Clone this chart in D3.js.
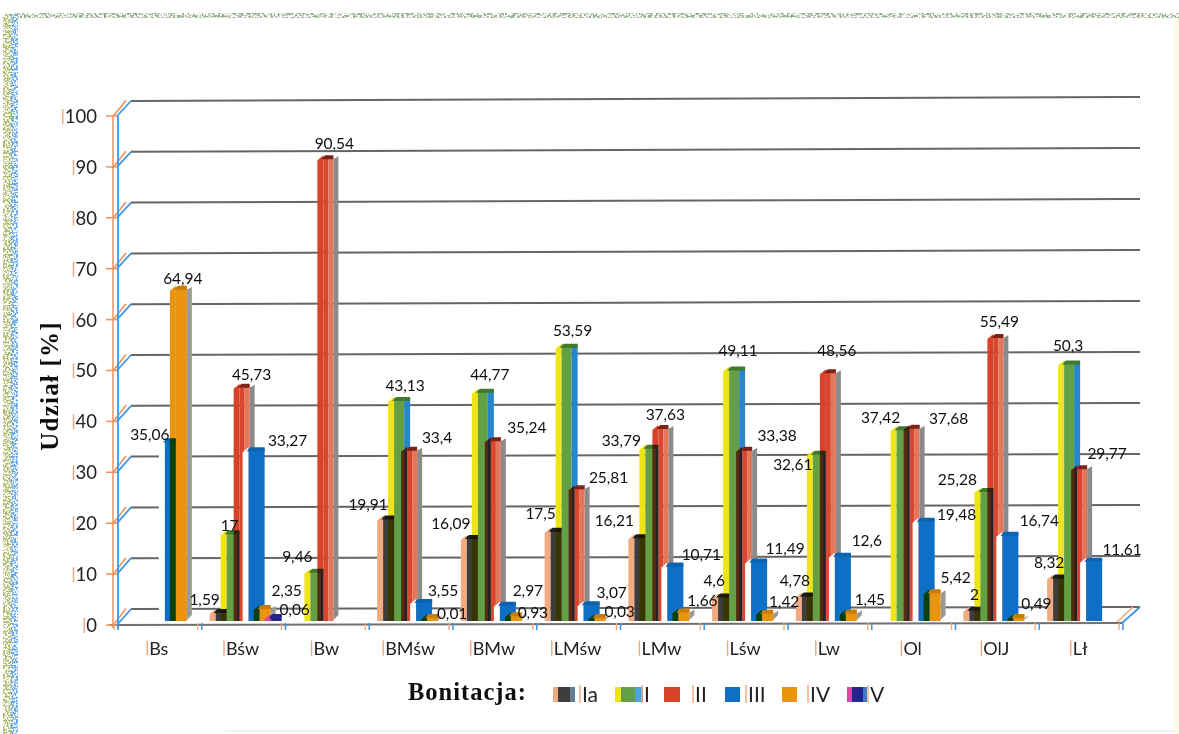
<!DOCTYPE html>
<html lang="pl"><head><meta charset="utf-8">
<script src="https://cdn.jsdelivr.net/npm/d3@7/dist/d3.min.js"></script>
<style>html,body{margin:0;padding:0;background:#fff}svg{display:block}</style></head>
<body><svg id="c" width="1179" height="734"></svg>
<script>
// ---------- data ----------
const categories = ["Bs","Bśw","Bw","BMśw","BMw","LMśw","LMw","Lśw","Lw","Ol","OlJ","Lł"];
const seriesNames = ["Ia","I","II","III","IV","V"];
const valuesIa  = [null,1.59,null,19.91,16.09,17.5,16.21,4.6,4.78,null,2,8.32];
const valuesI   = [null,17,9.46,43.13,44.77,53.59,33.79,49.11,32.61,37.42,25.28,50.3];
const valuesII  = [null,45.73,90.54,33.4,35.24,25.81,37.63,33.38,48.56,37.68,55.49,29.77];
const valuesIII = [35.06,33.27,null,3.55,2.97,3.07,10.71,11.49,12.6,19.48,16.74,11.61];
const valuesIV  = [64.94,2.35,null,0.01,0.93,0.03,1.66,1.42,1.45,5.42,0.49,null];
const valuesV   = [null,0.06,null,null,null,null,null,null,null,null,null,null];
const yTicks = [0,10,20,30,40,50,60,70,80,90,100];
const yTitle = "Udział [%]";
const legendTitle = "Bonitacja:";

// ---------- label nudges (separate from data) ----------
const nudgeIa  = [null,[-13,-13],null,[-17,-14],[-18,-14],[-12,-17],[-22,-17],[-6,-17],[-9,-16],null,[3,-16],[-6,-15]];
const nudgeI   = [null,[1,-8],[-15,-16],[9,-13],[10,-15],[9,-14],[-26,-6],[7,-17],[-22,12],[-18,-10],[-25,-11],[2,-16]];
const nudgeII  = [null,[10,-10],[9,-10],[28,-11],[34,-12],[32,-10],[5,-12],[33,-13],[9,-20],[37,-8],[4,-13],[28,-14]];
const nudgeIII = [[-17,-6],[37,-9],null,[25,-12],[26,-15],[26,-13],[32,-11],[32,-13],[30,-15],[36,-6],[35,-14],[34,-12]];
const nudgeIV  = [[5,-7],[25,-18],null,[23,-7],[20,-4],[23,-9],[22,-12],[20,-12],[22,-14],[24,-15],[21,-15],null];
const nudgeV   = [null,[22,-11],null,null,null,null,null,null,null,null,null,null];

const values = [valuesIa,valuesI,valuesII,valuesIII,valuesIV,valuesV];
const nudges = [nudgeIa,nudgeI,nudgeII,nudgeIII,nudgeIV,nudgeV];

// bar style per series: offset from category centre, then segments [width,colour,blend]
const barStyles = [
  {off:-33, segs:[[6,"#f2aa80","m"],[17,"#3c3c3c","n"]], cap:"#1c1c1c", side:null},
  {off:-22, segs:[[6,"#efe414","m"],[10,"#639f45","n"],[6,"#2b86cc","n"]], cap:"#3f7a2c", side:null},
  {off:-9,  segs:[[6,"#d8432c","m"],[5,"#d8472e","n"],[5,"#e2775c","n"]], cap:"#7d2018", side:"#8b8b8b"},
  {off:0,   segs:[[6,"#ffffff","n"],[16,"#0b70c6","n"]], cap:"#0b63b0", side:null},
  {off:11,  segs:[[6,"#ea9411","m"],[11,"#ea9411","n"]], cap:"#c97c08", side:"#9a9a9a"},
  {off:22,  segs:[[6,"#d84aa8","n"],[11,"#20288c","n"]], cap:"#20288c", side:null}
];

// ---------- scales ----------
const x = d3.scaleBand().domain(categories).range([117,1122]);
const yBar   = d3.scaleLinear().domain([0,100]).range([621,111]);
const yLabel = d3.scaleLinear().domain([0,100]).range([621,105]);
const yFront = d3.scaleLinear().domain([0,100]).range([625,116]);
const yBackL = d3.scaleLinear().domain([0,100]).range([609,101]);
const yBackR = d3.scaleLinear().domain([0,100]).range([607,97]);
const backL = 131, backR = 1140;
const frontBottomR = 623;

const svg = d3.select("#c");
const defs = svg.append("defs");
function stipple(id, freq, color, slope){
  const f = defs.append("filter").attr("id",id).attr("x",0).attr("y",0).attr("width","100%").attr("height","100%")
     .attr("color-interpolation-filters","sRGB");
  f.append("feTurbulence").attr("type","fractalNoise").attr("baseFrequency",freq).attr("numOctaves",2).attr("seed",7).attr("result","t");
  f.append("feColorMatrix").attr("in","t").attr("type","matrix")
   .attr("values",`0 0 0 0 ${color[0]} 0 0 0 0 ${color[1]} 0 0 0 0 ${color[2]} ${slope} 0 0 0 ${-slope*0.42}`);
}
stipple("olive",0.55,[0.66,0.73,0.42],6);
stipple("sky",0.55,[0.38,0.65,0.92],6);
stipple("moss",0.45,[0.58,0.68,0.55],5);
defs.append("filter").attr("id","scan").attr("x",0).attr("y",0).attr("width","100%").attr("height","100%")
    .attr("filterUnits","userSpaceOnUse")
    .append("feGaussianBlur").attr("stdDeviation",0.35);

svg.append("rect").attr("width",1179).attr("height",734).attr("fill","#fff");

// scanned page border
const frame = svg.append("g");
frame.append("rect").attr("x",3).attr("y",14).attr("width",10).attr("height",720).attr("filter","url(#olive)");
frame.append("rect").attr("x",11).attr("y",14).attr("width",7).attr("height",720).attr("filter","url(#sky)");
frame.append("rect").attr("x",14).attr("y",13).attr("width",1165).attr("height",5).attr("filter","url(#moss)");
frame.append("rect").attr("x",1175).attr("y",18).attr("width",4).attr("height",716).attr("fill","#fdf8e4");
frame.append("line").attr("x1",225).attr("x2",1175).attr("y1",731).attr("y2",731).attr("stroke","#eef2f2").attr("stroke-width",2);

const chart = svg.append("g").attr("filter","url(#scan)").style("isolation","isolate");

// ---------- walls and grid ----------
const wall = chart.append("g").attr("fill","none");
yTicks.forEach(t=>{
  wall.append("line").attr("x1",backL).attr("y1",yBackL(t)).attr("x2",backR).attr("y2",yBackR(t))
      .attr("stroke","#666").attr("stroke-width",2);
  wall.append("line").attr("x1",x.range()[0]-4).attr("y1",yFront(t)+.5).attr("x2",backL-5).attr("y2",yBackL(t)-.5)
      .attr("stroke","#f0905a").attr("stroke-width",1.6);
  wall.append("line").attr("x1",x.range()[0]).attr("y1",yFront(t)).attr("x2",backL).attr("y2",yBackL(t))
      .attr("stroke","#3f97e8").attr("stroke-width",1.8);
});
wall.append("line").attr("x1",113).attr("x2",113).attr("y1",yFront(100)).attr("y2",yFront(0)+3).attr("stroke","#f0905a").attr("stroke-width",1.5);
wall.append("line").attr("x1",118).attr("x2",118).attr("y1",yFront(100)).attr("y2",yFront(0)+3).attr("stroke","#3f97e8").attr("stroke-width",1.8);
// floor
wall.append("line").attr("x1",x.range()[1]).attr("y1",frontBottomR).attr("x2",backR).attr("y2",yBackR(0)).attr("stroke","#3f97e8").attr("stroke-width",2);
wall.append("line").attr("x1",x.range()[1]-6).attr("y1",frontBottomR).attr("x2",backR-7).attr("y2",yBackR(0)).attr("stroke","#f2a67a").attr("stroke-width",1.5);

// ---------- bars ----------
const barsG = chart.append("g").style("isolation","isolate");
const base = yBar(0);
values.forEach((vals,s)=>{
  const st = barStyles[s];
  categories.forEach((cat,i)=>{
    const v = vals[i];
    if(v==null) return;
    const cx = x(cat)+x.bandwidth()/2;
    const top = yBar(v);
    const capTop = Math.min(top, base-3);
    let px = cx+st.off;
    const total = d3.sum(st.segs,d=>d[0]);
    if(st.side){
      barsG.append("path").attr("fill",st.side)
        .attr("d",`M${px+total},${capTop}L${px+total+5},${capTop-3}L${px+total+5},${base-6}L${px+total},${base-1}Z`);
    }
    st.segs.forEach((seg,j)=>{
      const [w,col,mode] = seg;
      const low = Math.min(capTop+1,base);
      const d = j===0
        ? `M${px},${base}L${px},${low}L${px+w},${capTop-4}L${px+w},${base}Z`
        : `M${px},${base}L${px},${capTop-3}L${px+w},${capTop-3}L${px+w},${base}Z`;
      barsG.append("path").attr("d",d).attr("fill",col)
        .style("mix-blend-mode",mode==="m"?"multiply":"normal");
      px += w;
    });
    // top bevel
    const l = cx+st.off+st.segs[0][0];
    const r = cx+st.off+total;
    barsG.append("path").attr("fill",st.cap)
      .attr("d",`M${l-2},${capTop}L${l+2},${capTop-4}L${r},${capTop-4}L${r},${capTop}Z`);
  });
});

// ---------- front baseline and axes ----------
chart.append("line").attr("x1",x.range()[0]-8).attr("y1",yFront(0)).attr("x2",x.range()[1]).attr("y2",frontBottomR)
     .attr("stroke","#707070").attr("stroke-width",2);

const edges = categories.map(c=>x(c)).concat(x.range()[1]);
edges.forEach(e=>{
  chart.append("line").attr("x1",e+1).attr("x2",e+1).attr("y1",623).attr("y2",630).attr("stroke","#3f97e8").attr("stroke-width",1.6);
  chart.append("line").attr("x1",e-3).attr("x2",e-3).attr("y1",623).attr("y2",630).attr("stroke","#f2a67a").attr("stroke-width",1.3);
});

const sans = "Lato, 'Open Sans', sans-serif";
const yAxis = d3.axisLeft(yFront).tickValues(yTicks).tickSize(0).tickPadding(0).tickFormat(d3.format("d"));
const yG = chart.append("g").attr("transform","translate(97,0)").call(yAxis);
yG.select(".domain").remove();
yG.selectAll("text").attr("font-family",sans).attr("font-size",18.5).attr("fill","#222").attr("dy","0.35em");
yTicks.forEach(t=>{
  chart.append("line").attr("x1",106).attr("x2",117).attr("y1",yFront(t)).attr("y2",yFront(t)).attr("stroke","#f0905a").attr("stroke-width",1.5);
});

const xAxis = d3.axisBottom(x).tickSize(0).tickPadding(0);
const xG = chart.append("g").attr("transform","translate(0,642)").call(xAxis);
xG.select(".domain").remove();
xG.selectAll("text").attr("font-family",sans).attr("font-size",18).attr("fill","#222").attr("dy","0.7em");

// salmon print-shift ghost in front of axis texts
function ghost(sel){
  sel.each(function(){
    const b = this.getBBox();
    const m = this.getCTM();
    chart.append("line").attr("x1",m.e+b.x-2).attr("x2",m.e+b.x-2).attr("y1",m.f+b.y+4).attr("y2",m.f+b.y+b.height-3)
      .attr("stroke","#f2a67a").attr("stroke-width",1.4);
  });
}
ghost(yG.selectAll("text")); ghost(xG.selectAll("text"));

// ---------- value labels ----------
const fmt = v => String(v).replace(".",",");
const labels = chart.append("g").attr("font-family",sans).attr("font-size",15.5).attr("fill","#111").attr("text-anchor","middle");
values.forEach((vals,s)=>{
  categories.forEach((cat,i)=>{
    const v = vals[i];
    if(v==null) return;
    const n = nudges[s][i];
    const ax = x(cat)+x.bandwidth()/2+barStyles[s].off+8;
    labels.append("text").attr("x",ax+n[0]).attr("y",yLabel(v)+n[1]).attr("dy","0.35em").text(fmt(v));
  });
});

// ---------- titles and legend ----------
const serif = "'Liberation Serif', 'DejaVu Serif', serif";
chart.append("text").attr("transform","translate(58,386) rotate(-90)").attr("text-anchor","middle")
  .attr("font-family",serif).attr("font-weight","bold").attr("font-size",25).attr("letter-spacing",1.2).attr("fill","#111").text(yTitle);
chart.append("text").attr("x",408).attr("y",700).attr("font-family",serif).attr("font-weight","bold")
  .attr("font-size",24.5).attr("letter-spacing",1).attr("fill","#111").text(legendTitle);

const legendSwatches = [
  [[5,"#f2aa80"],[12,"#3c3c3c"],[5,"#5f7f99"]],
  [[6,"#efe414"],[14,"#639f45"],[8,"#4da3e6"]],
  [[16,"#d8432c"]],
  [[15,"#0b70c6"]],
  [[15,"#ea9411"]],
  [[5,"#d84aa8"],[11,"#20288c"],[4,"#3a7ad0"]]
];
const legendStart = [553,615,664,725,782,847];
const legendLabel = [582,644,695,748,810,870];
const leg = chart.append("g");
seriesNames.forEach((nm,i)=>{
  let px = legendStart[i];
  legendSwatches[i].forEach(([w,c])=>{
    leg.append("rect").attr("x",px).attr("y",687).attr("width",w).attr("height",15).attr("fill",c);
    px += w;
  });
  leg.append("text").attr("x",legendLabel[i]).attr("y",702).attr("font-family",sans).attr("font-size",21).attr("fill","#222").text(nm);
});
ghost(leg.selectAll("text"));
</script></body></html>
